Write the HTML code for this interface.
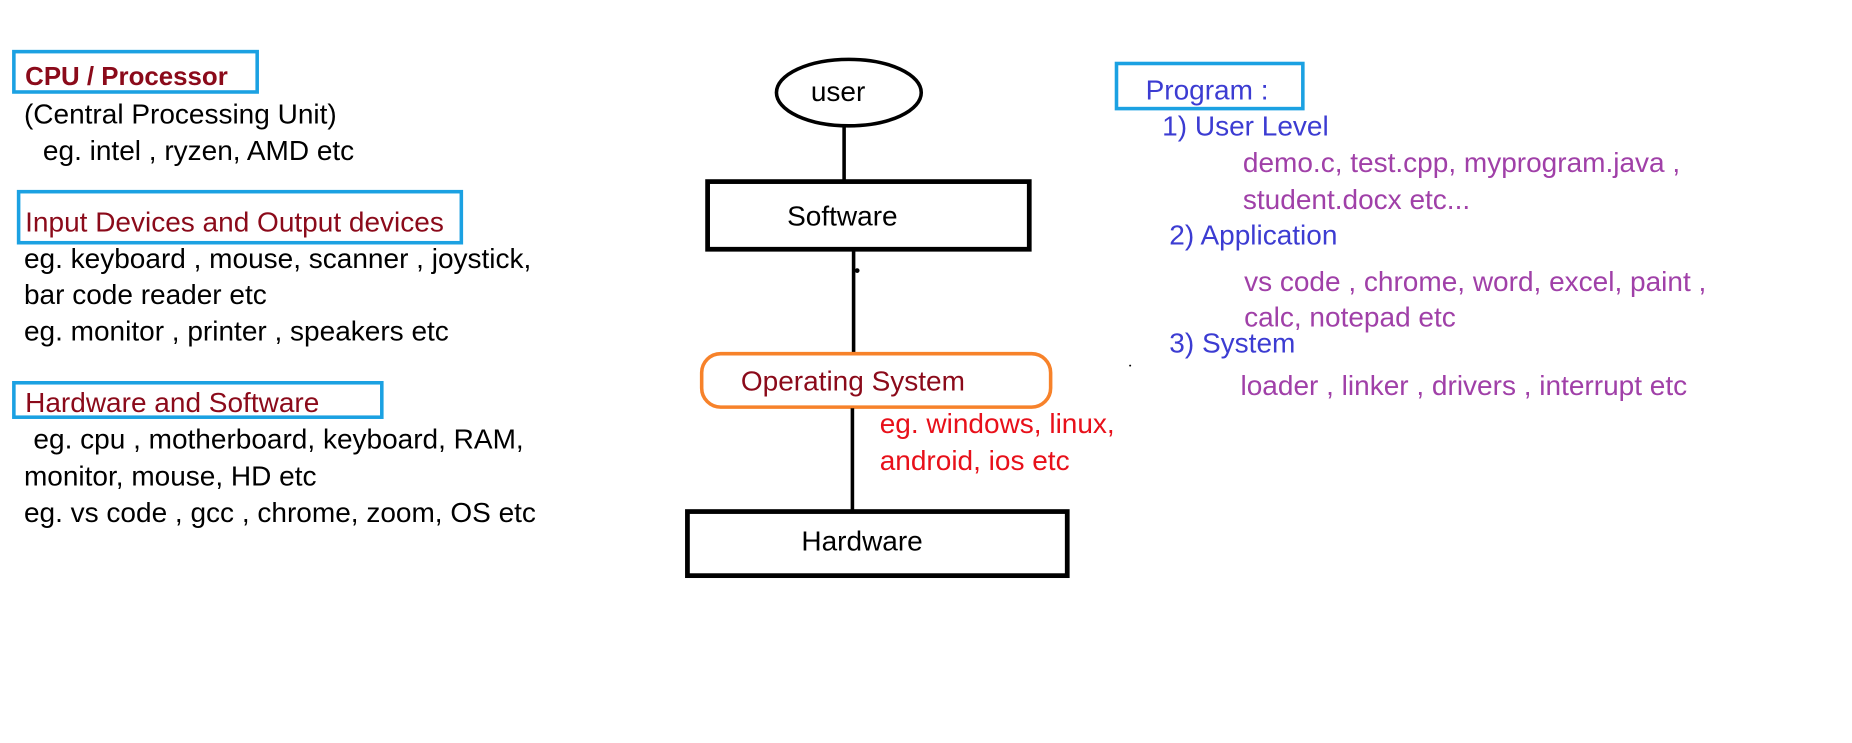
<!DOCTYPE html>
<html><head><meta charset="utf-8"><style>
html,body{margin:0;padding:0;background:#fff;}
svg{display:block;}
text{font-family:"Liberation Sans","DejaVu Sans",sans-serif;font-size:23.6px;dominant-baseline:central;}
</style></head><body>
<svg width="1852" height="743" viewBox="0 0 1560 626" xmlns="http://www.w3.org/2000/svg">
<!-- left -->
<rect x="11.5" y="43.5" width="205" height="34" fill="none" stroke="#1ba1e2" stroke-width="3"/>
<text x="21" y="65" fill="#8b0a1a" font-weight="bold" style="font-size:21.8px">CPU / Processor</text>
<text x="20" y="96" fill="#000">(Central Processing Unit)</text>
<text x="36" y="127" fill="#000">eg. intel , ryzen, AMD etc</text>
<rect x="15.5" y="161.5" width="373" height="43" fill="none" stroke="#1ba1e2" stroke-width="3"/>
<text x="21" y="187" fill="#8b0a1a">Input Devices and Output devices</text>
<text x="20" y="218" fill="#000">eg. keyboard , mouse, scanner , joystick,</text>
<text x="20" y="248" fill="#000">bar code reader etc</text>
<text x="20" y="279" fill="#000">eg. monitor , printer , speakers etc</text>
<rect x="11.5" y="322.5" width="310" height="29" fill="none" stroke="#1ba1e2" stroke-width="3"/>
<text x="21" y="339" fill="#8b0a1a">Hardware and Software</text>
<text x="28" y="370" fill="#000">eg. cpu , motherboard, keyboard, RAM,</text>
<text x="20" y="401" fill="#000">monitor, mouse, HD etc</text>
<text x="20" y="432" fill="#000">eg. vs code , gcc , chrome, zoom, OS etc</text>
<!-- center -->
<ellipse cx="715" cy="78" rx="61" ry="28" fill="none" stroke="#000" stroke-width="3"/>
<text x="683" y="77" fill="#000">user</text>
<line x1="711" y1="106" x2="711" y2="152" stroke="#000" stroke-width="3"/>
<rect x="596" y="153" width="271" height="57" fill="none" stroke="#000" stroke-width="4"/>
<text x="663" y="182" fill="#000">Software</text>
<line x1="719" y1="211" x2="719" y2="297" stroke="#000" stroke-width="3"/>
<circle cx="722" cy="228" r="2" fill="#000"/>
<rect x="591" y="298" width="294" height="45" rx="16" fill="none" stroke="#f7822a" stroke-width="3"/>
<text x="624" y="321" fill="#8b0a1a">Operating System</text>
<line x1="718" y1="344" x2="718" y2="430" stroke="#000" stroke-width="3"/>
<text x="741" y="357" fill="#e8101a">eg. windows, linux,</text>
<text x="741" y="388" fill="#e8101a">android, ios etc</text>
<rect x="579" y="431" width="320" height="54" fill="none" stroke="#000" stroke-width="4"/>
<text x="675" y="456" fill="#000">Hardware</text>
<!-- right -->
<rect x="940.5" y="53.5" width="157" height="38" fill="none" stroke="#1ba1e2" stroke-width="3"/>
<text x="965" y="76" fill="#3c3cd2">Program :</text>
<text x="979" y="106" fill="#3c3cd2">1)  User Level</text>
<text x="1047" y="137" fill="#a040a8">demo.c, test.cpp, myprogram.java ,</text>
<text x="1047" y="168" fill="#a040a8">student.docx etc...</text>
<text x="985" y="198" fill="#3c3cd2">2)  Application</text>
<text x="1048" y="237" fill="#a040a8">vs code , chrome, word, excel, paint ,</text>
<text x="1048" y="267" fill="#a040a8">calc, notepad etc</text>
<text x="985" y="289" fill="#3c3cd2">3) System</text>
<text x="1045" y="325" fill="#a040a8">loader , linker , drivers , interrupt  etc</text>
<circle cx="952" cy="308" r="0.8" fill="#000"/>
</svg>
</body></html>
